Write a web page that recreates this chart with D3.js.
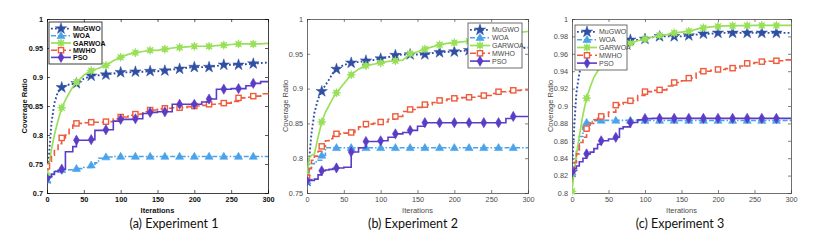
<!DOCTYPE html>
<html><head><meta charset="utf-8">
<script src="https://cdn.jsdelivr.net/npm/d3@7"></script>
<style>html,body{margin:0;padding:0;background:#fff;}svg{display:block;}</style>
</head><body><svg id="c" width="820" height="244"></svg>
<script>
// ---------- DATA ----------
const iters = [0,3,6,10,15,20,25,30,35,40,50,60,65,70,80,90,100,110,120,130,140,150,160,170,180,190,200,210,220,230,240,250,260,270,280,290,300];
const seriesNames = ["MuGWO","WOA","GARWOA","MWHO","PSO"];
const xTicks = [0,50,100,150,200,250,300];

// Experiment 1
const exp1_MuGWO  = [0.725,0.770,0.820,0.855,0.875,0.882,0.885,0.887,0.888,0.889,0.897,0.902,0.903,0.903,0.904,0.906,0.908,0.908,0.909,0.909,0.910,0.910,0.911,0.913,0.914,0.916,0.917,0.917,0.917,0.919,0.921,0.921,0.921,0.922,0.923,0.924,0.925];
const exp1_WOA    = [0.722,0.728,0.733,0.738,0.739,0.740,0.740,0.740,0.741,0.742,0.744,0.748,0.752,0.760,0.762,0.763,0.763,0.763,0.763,0.763,0.763,0.763,0.763,0.763,0.763,0.763,0.763,0.763,0.763,0.763,0.763,0.763,0.763,0.763,0.763,0.763,0.763];
const exp1_GARWOA = [0.730,0.750,0.775,0.800,0.825,0.847,0.860,0.872,0.883,0.891,0.903,0.911,0.913,0.915,0.920,0.928,0.934,0.939,0.942,0.944,0.946,0.946,0.948,0.950,0.951,0.952,0.953,0.953,0.953,0.954,0.955,0.956,0.957,0.957,0.957,0.957,0.958];
const exp1_MWHO   = [0.746,0.755,0.765,0.775,0.785,0.795,0.800,0.810,0.817,0.820,0.821,0.822,0.822,0.822,0.823,0.828,0.831,0.834,0.836,0.840,0.843,0.845,0.846,0.847,0.847,0.849,0.850,0.851,0.853,0.854,0.855,0.858,0.864,0.865,0.867,0.871,0.875];
const exp1_PSO    = [0.725,0.728,0.732,0.737,0.739,0.741,0.771,0.771,0.780,0.791,0.791,0.792,0.808,0.808,0.809,0.824,0.827,0.827,0.828,0.837,0.839,0.840,0.840,0.853,0.853,0.853,0.853,0.857,0.862,0.879,0.879,0.880,0.880,0.885,0.889,0.892,0.892];

// Experiment 2
const exp2_MuGWO  = [0.767,0.800,0.835,0.865,0.885,0.896,0.905,0.913,0.922,0.928,0.934,0.937,0.938,0.938,0.940,0.941,0.943,0.945,0.948,0.949,0.949,0.949,0.949,0.951,0.952,0.953,0.953,0.954,0.955,0.955,0.956,0.956,0.957,0.957,0.958,0.958,0.959];
const exp2_WOA    = [0.767,0.785,0.792,0.795,0.797,0.804,0.815,0.815,0.815,0.815,0.815,0.815,0.815,0.815,0.815,0.815,0.815,0.815,0.815,0.815,0.815,0.815,0.815,0.815,0.815,0.815,0.815,0.815,0.815,0.815,0.815,0.815,0.815,0.815,0.815,0.815,0.815];
const exp2_GARWOA = [0.775,0.800,0.804,0.806,0.830,0.852,0.866,0.876,0.886,0.894,0.907,0.920,0.924,0.928,0.933,0.935,0.937,0.939,0.940,0.941,0.950,0.953,0.957,0.960,0.963,0.965,0.966,0.967,0.968,0.970,0.972,0.974,0.976,0.978,0.980,0.981,0.982];
const exp2_MWHO   = [0.772,0.785,0.797,0.803,0.810,0.817,0.825,0.828,0.832,0.835,0.836,0.837,0.840,0.845,0.849,0.850,0.852,0.856,0.860,0.867,0.870,0.873,0.877,0.880,0.883,0.885,0.886,0.887,0.8875,0.889,0.890,0.893,0.8955,0.896,0.8975,0.898,0.899];
const exp2_PSO    = [0.768,0.768,0.768,0.770,0.776,0.782,0.783,0.784,0.785,0.786,0.787,0.809,0.809,0.815,0.824,0.824,0.825,0.830,0.835,0.837,0.840,0.846,0.851,0.851,0.851,0.851,0.851,0.851,0.851,0.851,0.851,0.851,0.851,0.857,0.860,0.860,0.860];

// Experiment 3
const exp3_MuGWO  = [0.824,0.875,0.915,0.938,0.950,0.957,0.961,0.965,0.968,0.970,0.973,0.975,0.975,0.976,0.976,0.976,0.977,0.979,0.980,0.980,0.980,0.980,0.981,0.982,0.983,0.983,0.984,0.984,0.984,0.984,0.984,0.984,0.984,0.984,0.984,0.984,0.984];
const exp3_WOA    = [0.824,0.835,0.850,0.865,0.876,0.881,0.882,0.883,0.8835,0.8835,0.8835,0.8835,0.8835,0.8835,0.8835,0.8833,0.8833,0.8833,0.8833,0.8833,0.8833,0.8833,0.8833,0.8833,0.8833,0.8833,0.8833,0.8833,0.8833,0.8833,0.8833,0.8833,0.8833,0.8833,0.8833,0.8833,0.8833];
const exp3_GARWOA = [0.802,0.825,0.843,0.865,0.890,0.909,0.922,0.933,0.940,0.946,0.958,0.966,0.968,0.970,0.972,0.975,0.977,0.979,0.981,0.982,0.984,0.985,0.986,0.988,0.990,0.991,0.9915,0.992,0.9923,0.9925,0.9925,0.9927,0.9927,0.9927,0.9927,0.9927,0.9927];
const exp3_MWHO   = [0.826,0.835,0.845,0.858,0.864,0.874,0.880,0.884,0.886,0.888,0.893,0.901,0.902,0.904,0.906,0.912,0.9165,0.918,0.9185,0.923,0.927,0.929,0.932,0.939,0.940,0.941,0.942,0.943,0.9435,0.946,0.949,0.950,0.951,0.9515,0.952,0.953,0.954];
const exp3_PSO    = [0.824,0.828,0.831,0.836,0.840,0.845,0.847,0.851,0.856,0.860,0.862,0.864,0.874,0.876,0.881,0.884,0.8855,0.8858,0.8858,0.8858,0.8858,0.8858,0.8858,0.8858,0.8858,0.8858,0.8858,0.8858,0.8858,0.8858,0.8858,0.8858,0.8858,0.8858,0.8858,0.8858,0.8858];

const exp1_yTicks = [0.7,0.75,0.8,0.85,0.9,0.95,1];
const exp2_yTicks = [0.75,0.8,0.85,0.9,0.95,1];
const exp3_yTicks = [0.8,0.82,0.84,0.86,0.88,0.9,0.92,0.94,0.96,0.98,1];
const captions = ["(a) Experiment 1","(b) Experiment 2","(c) Experiment 3"];

// ---------- STYLE / LAYOUT ----------
const styles = {
  MuGWO:  {color:"#2f4fa3", dash:"1.8,2.2", width:1.9, marker:"star",    curve:d3.curveLinear},
  WOA:    {color:"#4aa3ea", dash:"5,2,1.5,2", width:1.6, marker:"tri",   curve:d3.curveStepAfter},
  GARWOA: {color:"#99e05a", dash:null,      width:1.7, marker:"ast",     curve:d3.curveLinear},
  MWHO:   {color:"#ef5b3c", dash:"6,3",     width:1.6, marker:"square",  curve:d3.curveStepAfter},
  PSO:    {color:"#5a3cc6", dash:null,      width:1.6, marker:"diamond", curve:d3.curveStepAfter}
};
const panels = [
  {x0:47, x1:268, y0:19, y1:193, ydom:[0.7,1], yTicks:exp1_yTicks,
   data:{MuGWO:exp1_MuGWO,WOA:exp1_WOA,GARWOA:exp1_GARWOA,MWHO:exp1_MWHO,PSO:exp1_PSO},
   ink:"#111", weight:"bold", legend:{x:49,y:22,w:53,h:42}, ylabX:24, capX:174},
  {x0:307, x1:528, y0:19, y1:193, ydom:[0.75,1], yTicks:exp2_yTicks,
   data:{MuGWO:exp2_MuGWO,WOA:exp2_WOA,GARWOA:exp2_GARWOA,MWHO:exp2_MWHO,PSO:exp2_PSO},
   ink:"#4a4a4a", weight:"normal", legend:{x:468,y:23,w:54,h:45}, ylabX:285, capX:413},
  {x0:572, x1:791, y0:19, y1:193, ydom:[0.8,1], yTicks:exp3_yTicks,
   data:{MuGWO:exp3_MuGWO,WOA:exp3_WOA,GARWOA:exp3_GARWOA,MWHO:exp3_MWHO,PSO:exp3_PSO},
   ink:"#4a4a4a", weight:"normal", legend:{x:575,y:25,w:52,h:45}, ylabX:550, capX:680}
];

const svg = d3.select("#c");
const fmt = d => String(+d.toFixed(2));

function drawMarker(g, type, color, x, y){
  if(type==="star"){
    g.append("path").attr("d", d3.symbol(d3.symbolStar, 40)()).attr("transform",`translate(${x},${y})`)
     .attr("fill",color).attr("stroke",color).attr("stroke-width",0.5);
  } else if(type==="tri"){
    g.append("path").attr("d", d3.symbol(d3.symbolTriangle, 28)()).attr("transform",`translate(${x},${y+0.5})`)
     .attr("fill",color).attr("stroke",color).attr("stroke-width",0.6);
  } else if(type==="ast"){
    g.append("circle").attr("cx",x).attr("cy",y).attr("r",2.8).attr("fill",color);
    for(let a=0;a<4;a++){
      const an = a*Math.PI/4, r=4.3;
      g.append("line").attr("x1",x-r*Math.cos(an)).attr("y1",y-r*Math.sin(an))
        .attr("x2",x+r*Math.cos(an)).attr("y2",y+r*Math.sin(an))
        .attr("stroke",color).attr("stroke-width",1.2);
    }
  } else if(type==="square"){
    g.append("rect").attr("x",x-2.6).attr("y",y-2.6).attr("width",5.2).attr("height",5.2)
     .attr("fill","#fff").attr("stroke",color).attr("stroke-width",1.4);
  } else if(type==="diamond"){
    g.append("path").attr("d", d3.symbol(d3.symbolDiamond, 30)()).attr("transform",`translate(${x},${y})`)
     .attr("fill",color).attr("stroke",color).attr("stroke-width",0.6);
  }
}

panels.forEach((p,pi)=>{
  const x = d3.scaleLinear().domain([0,300]).range([p.x0,p.x1]);
  const y = d3.scaleLinear().domain(p.ydom).range([p.y1,p.y0]);
  const g = svg.append("g");
  const clipId = "clip"+pi;
  svg.append("clipPath").attr("id",clipId).append("rect")
     .attr("x",p.x0).attr("y",p.y0-4).attr("width",p.x1-p.x0+1).attr("height",p.y1-p.y0+8);

  // axes
  const axB = g.append("g").attr("transform",`translate(0,${p.y1})`)
     .call(d3.axisBottom(x).tickValues(xTicks).tickSize(-3).tickPadding(4).tickFormat(d=>d));
  const axT = g.append("g").attr("transform",`translate(0,${p.y0})`)
     .call(d3.axisTop(x).tickValues(xTicks).tickSize(-3).tickFormat(""));
  const axL = g.append("g").attr("transform",`translate(${p.x0},0)`)
     .call(d3.axisLeft(y).tickValues(p.yTicks).tickSize(-3).tickPadding(4).tickFormat(fmt));
  const axR = g.append("g").attr("transform",`translate(${p.x1},0)`)
     .call(d3.axisRight(y).tickValues(p.yTicks).tickSize(-3).tickFormat(""));
  [axB,axT,axL,axR].forEach(a=>{
    a.select(".domain").attr("stroke",p.ink).attr("stroke-width",0.8);
    a.selectAll(".tick line").attr("stroke",p.ink).attr("stroke-width",0.7);
    a.selectAll("text").attr("fill",p.ink).attr("font-family","Liberation Sans, Arial, sans-serif")
      .attr("font-size",7.3).attr("font-weight",p.weight);
  });

  // series
  const lines = g.append("g").attr("clip-path",`url(#${clipId})`);
  seriesNames.forEach(name=>{
    const st = styles[name], vals = p.data[name];
    const pts = iters.map((it,i)=>[it, vals[i]]);
    const line = d3.line().x(d=>x(d[0])).y(d=>y(d[1])).curve(st.curve);
    lines.append("path").attr("d",line(pts)).attr("fill","none")
      .attr("stroke",st.color).attr("stroke-width",st.width)
      .attr("stroke-dasharray",st.dash);
    pts.forEach(d=>{ if(d[0]%20===0 && d[0]<300) drawMarker(lines, st.marker, st.color, x(d[0]), y(d[1])); });
  });

  // legend
  const L = p.legend;
  const lg = g.append("g");
  lg.append("rect").attr("x",L.x).attr("y",L.y).attr("width",L.w).attr("height",L.h)
    .attr("fill","#fff").attr("stroke",p.ink).attr("stroke-width",0.8);
  const rowH = (L.h-6)/5;
  seriesNames.forEach((name,i)=>{
    const st = styles[name];
    const ry = L.y + 3 + rowH*(i+0.5);
    const lx0 = L.x+2, lx1 = L.x+22;
    lg.append("line").attr("x1",lx0).attr("x2",lx1).attr("y1",ry).attr("y2",ry)
      .attr("stroke",st.color).attr("stroke-width",st.width).attr("stroke-dasharray",st.dash);
    drawMarker(lg, st.marker, st.color, (lx0+lx1)/2, ry);
    lg.append("text").attr("x",L.x+24).attr("y",ry+2.5).text(name)
      .attr("font-family","Liberation Sans, Arial, sans-serif").attr("font-size",7)
      .attr("font-weight",p.weight).attr("fill",p.ink);
  });

  // labels
  g.append("text").attr("x",(p.x0+p.x1)/2).attr("y",213).attr("text-anchor","middle")
    .text("Iterations").attr("font-family","Liberation Sans, Arial, sans-serif").attr("font-size",7.5)
    .attr("font-weight",p.weight).attr("fill",p.ink);
  g.append("text").attr("transform",`translate(${p.ylabX+2.5},106) rotate(-90)`).attr("text-anchor","middle")
    .text("Coverage Ratio").attr("font-family","Liberation Sans, Arial, sans-serif").attr("font-size",7.5)
    .attr("font-weight",p.weight).attr("fill",p.ink);
  g.append("text").attr("x",p.capX).attr("y",228).attr("text-anchor","middle")
    .text(captions[pi]).attr("font-family","Lato, Open Sans, sans-serif").attr("font-size",12.5).attr("fill","#111");
});
</script></body></html>
